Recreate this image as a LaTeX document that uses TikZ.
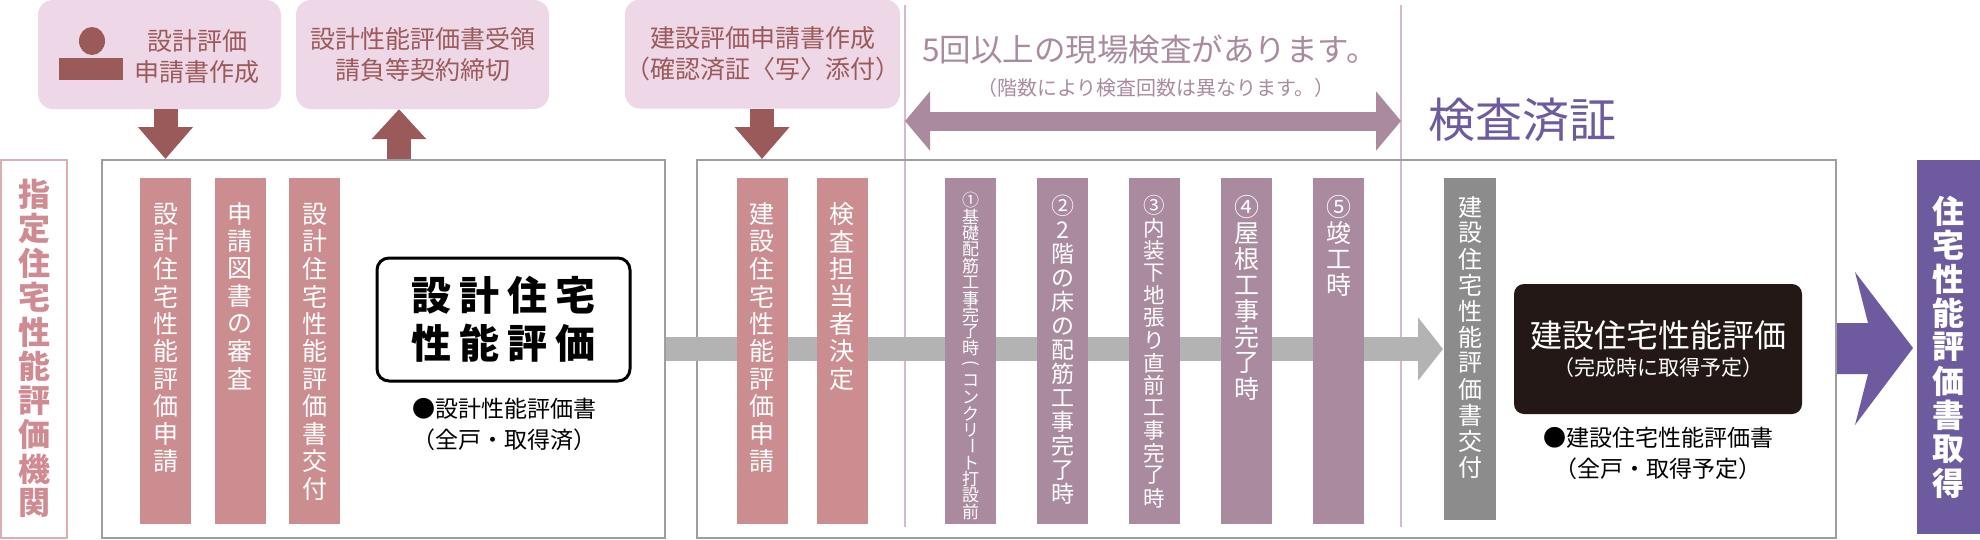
\documentclass[tikz,border=0pt]{standalone}
\usepackage{fontspec}
\setmainfont{Noto Sans CJK JP}
\usetikzlibrary{positioning,arrows.meta}
\definecolor{topbg}{HTML}{EED8E8}
\definecolor{topink}{HTML}{9B5A5A}
\definecolor{barpink}{HTML}{CC8D90}
\definecolor{barmauve}{HTML}{A98A9E}
\definecolor{bandgray}{HTML}{B3B3B3}
\definecolor{bargray}{HTML}{8C8C8C}
\definecolor{goalpurple}{HTML}{6E5A9E}
\definecolor{boxline}{HTML}{9E9E9E}
\definecolor{labpink}{HTML}{D08A92}
\definecolor{sepline}{HTML}{D7B9CE}
\definecolor{inkbox}{HTML}{231815}
% stack characters one below the other, one every \vpitch
\newdimen\vpitch
\def\vend{}
\def\vgobble#1{}
\newcommand\vstack[2][27.5pt]{\vbox{\offinterlineskip\vpitch=#1\relax\vstackA#2\vend}}
\def\vstackA#1{\hbox to 0pt{\hss\vbox to\vpitch{\vss\hbox{#1}\vss}\hss}\futurelet\next\vstackB}
\def\vstackB{\ifx\next\vend\expandafter\vgobble\else\expandafter\vstackA\fi}
\newcommand\vturn[1]{\rotatebox[origin=c]{-90}{#1}}
\tikzset{
  topbox/.style={rectangle, rounded corners=15pt, fill=topbg, text=topink,
    minimum width=#1, minimum height=109pt, align=center, inner sep=0pt,
    font=\fontsize{25}{31}\selectfont},
  frame/.style={rectangle, draw=boxline, line width=2pt, inner sep=0pt},
  pbar/.style={rectangle, fill=barpink, minimum width=51pt, inner sep=0pt, anchor=north},
  mbar/.style={rectangle, fill=barmauve, minimum width=51pt, inner sep=0pt, anchor=north},
  vlab/.style={text=white, inner sep=0pt, anchor=north,
    font=\fontsize{25}{27.5}\selectfont},
  fatdown/.style={draw=topink, line width=24pt,
    -{Triangle[length=32pt,width=53pt]}},
  caption/.style={align=center, inner sep=0pt, font=\fontsize{23}{31}\selectfont},
}
\begin{document}
\begin{tikzpicture}[x=1pt,y=-1pt]
\useasboundingbox (0,0) rectangle (1980,539);

% separators of the inspection period
\coordinate (s1t) at (905,5);   \coordinate (s1b) at (905,527);
\coordinate (s2t) at (1401,5);  \coordinate (s2b) at (1401,527);
\draw[sepline, line width=1.5pt] (s1t) -- (s1b);
\draw[sepline, line width=1.5pt] (s2t) -- (s2b);

% top boxes
\node[topbox=243pt] (appl) at (159.5,54.5) {};
\fill[topink] (92,41) ellipse (13pt and 14pt);
\fill[topink] (59,58) rectangle (123,80);
\node[text=topink, align=center, font=\fontsize{25}{31}\selectfont] (appltext) at (197,57) {設計評価\\申請書作成};
\node[topbox=253pt] (recv) at (422.5,54.5) {設計性能評価書受領\\請負等契約締切};
\node[topbox=255pt] (cons) at (762.5,54) {建設評価申請書作成\\（確認済証〈写〉添付）};

% left side organisation
\node[rectangle, draw=labpink!70, line width=2pt, minimum width=66pt, minimum height=378pt,
  inner sep=0pt] (org) at (34,349) {};
\node[text=labpink, inner sep=0pt, font=\fontsize{32}{34}\selectfont\bfseries] (orgtext)
  at (org.center) {\vstack[34.3pt]{指定住宅性能評価機関}};

% design evaluation
\node[frame, minimum width=563pt, minimum height=378pt] (boxA) at (383.5,349) {};
\node[pbar, minimum height=346pt] (a1) at (165.5,178) {};
\node[vlab, below=22pt of a1.north] {\vstack{設計住宅性能評価申請}};
\node[pbar, minimum height=346pt] (a2) at (240,178) {};
\node[vlab, below=22pt of a2.north] {\vstack{申請図書の審査}};
\node[pbar, minimum height=346pt] (a3) at (314.5,178) {};
\node[vlab, below=22pt of a3.north] {\vstack{設計住宅性能評価書交付}};
\node[rectangle, draw=black, line width=3pt, rounded corners=12pt, minimum width=253pt,
  minimum height=123pt, align=center, font=\fontsize{40}{48}\selectfont\bfseries]
  (design) at (503.5,319.5) {設\kern8pt 計\kern8pt 住\kern8pt 宅\\性\kern8pt 能\kern8pt 評\kern8pt 価};
\node[caption] (designcap) at (504,424) {●設計性能評価書\\（全戸・取得済）};

% construction evaluation
\node[frame, minimum width=1139pt, minimum height=378pt] (boxB) at (1266.5,349) {};
\draw[bandgray, line width=24pt, -{Triangle[length=25pt,width=62pt]}]
  (boxA.east) -- (1443,349) coordinate (bandtip);
\node[pbar, minimum height=346pt] (c1) at (762,178) {};
\node[vlab, below=22pt of c1.north] {\vstack{建設住宅性能評価申請}};
\node[pbar, minimum height=346pt] (c2) at (842,178) {};
\node[vlab, below=22pt of c2.north] {\vstack{検査担当者決定}};

\node[mbar, minimum height=346pt] (m1) at (970.5,178) {};
\node[vlab, below=14pt of m1.north, font=\fontsize{17}{17}\selectfont]
  {\vstack[16.4pt]{①基礎配筋工事完了時{\vturn{(}}コンクリ{\vturn{ー}}ト打設前{\vturn{)}}}};
\node[mbar, minimum height=346pt] (m2) at (1062.5,178) {};
\node[vlab, below=16pt of m2.north, font=\fontsize{23}{24}\selectfont]
  {\vstack[24pt]{②2階の床の配筋工事完了時}};
\node[mbar, minimum height=346pt] (m3) at (1154.5,178) {};
\node[vlab, below=16pt of m3.north, font=\fontsize{21.5}{22.5}\selectfont]
  {\vstack[22.5pt]{③内装下地張り直前工事完了時}};
\node[mbar, minimum height=346pt] (m4) at (1246.5,178) {};
\node[vlab, below=16pt of m4.north, font=\fontsize{25}{26}\selectfont]
  {\vstack[26pt]{④屋根工事完了時}};
\node[mbar, minimum height=346pt] (m5) at (1338.5,178) {};
\node[vlab, below=16pt of m5.north, font=\fontsize{25}{26}\selectfont]
  {\vstack[26pt]{⑤竣工時}};

\node[rectangle, fill=bargray, minimum width=52pt, minimum height=342pt, inner sep=0pt,
  anchor=north] (g1) at (1470,178) {};
\node[vlab, below=16pt of g1.north, font=\fontsize{24}{26}\selectfont]
  {\vstack[26pt]{建設住宅性能評価書交付}};
\node[rectangle, fill=inkbox, rounded corners=10pt, minimum width=288pt, minimum height=130pt,
  text=white, align=center, inner sep=0pt] (result) at (1658,349)
  {{\fontsize{32}{40}\selectfont 建設住宅性能評価}\\[6pt]{\fontsize{21}{30}\selectfont （完成時に取得予定）}};
\node[caption] (resultcap) at (1658,453) {●建設住宅性能評価書\\（全戸・取得予定）};

% inspections
\node[text=barmauve, inner sep=0pt, font=\fontsize{31.5}{36}\selectfont] (insp) at (1150,50)
  {5回以上の現場検査があります。};
\node[text=barmauve, inner sep=0pt, font=\fontsize{20}{24}\selectfont] (inspsub) at (1156,88)
  {（階数により検査回数は異なります。）};
\coordinate (dl) at (s1t |- 0,121);
\coordinate (dr) at (s2t |- 0,121);
\draw[barmauve, line width=19pt,
  {Triangle[length=25pt,width=58pt]}-{Triangle[length=25pt,width=58pt]}] (dl) -- (dr);
\node[text=goalpurple, inner sep=0pt, font=\fontsize{47}{50}\selectfont, anchor=west]
  (passed) at (1428,120) {検査済証};

% top arrows
\draw[fatdown] (appl.south -| a1.north) -- (a1.north |- boxA.north);
\coordinate (upx) at (399,0);
\draw[fatdown, -{Triangle[length=30pt,width=53pt]}] (upx |- boxA.north) -- (upx |- recv.south);
\draw[fatdown] (cons.south -| c1.north) -- (c1.north |- boxB.north);

% goal
\node[rectangle, fill=goalpurple, minimum width=63pt, minimum height=374pt, inner sep=0pt,
  anchor=north west] (goal) at (1917,160) {};
\node[text=white, inner sep=0pt, font=\fontsize{32}{34}\selectfont\bfseries] at (goal.center)
  {\vstack[34pt]{住宅性能評価書取得}};
\fill[goalpurple] (boxB.east |- 0,323) -- (1868,323) -- (1855,272) -- (1913,348)
  -- (1855,425) -- (1868,374) -- (boxB.east |- 0,374) -- cycle;
\end{tikzpicture}
\end{document}
